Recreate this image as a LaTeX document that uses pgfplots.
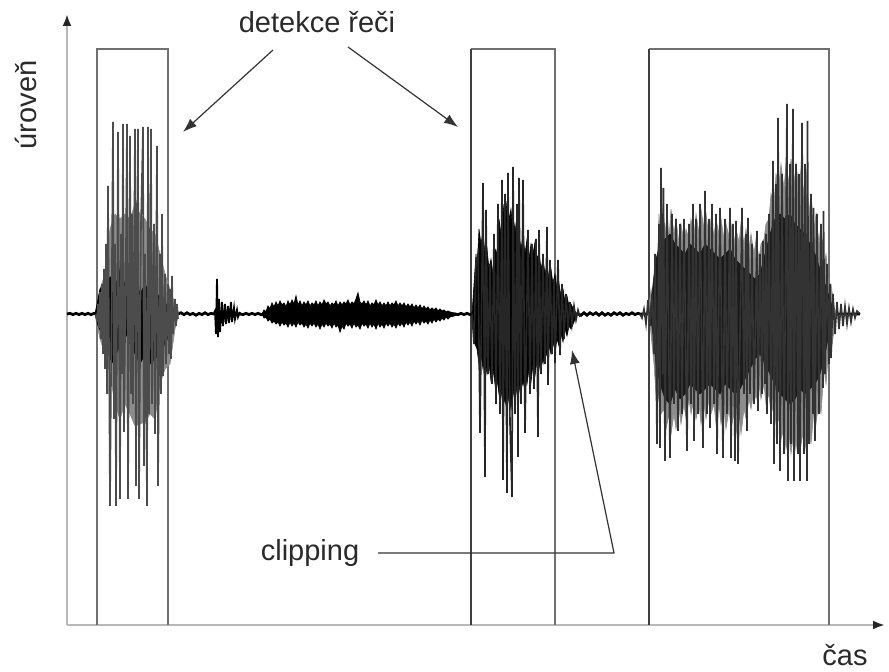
\documentclass[border=0pt]{standalone}
\usepackage{pgfplots}
\pgfplotsset{compat=1.18}
\usetikzlibrary{arrows.meta}
\usepackage{fontspec}
\setmainfont{Liberation Sans}
\definecolor{txt}{HTML}{2A2A2A}
\definecolor{boxc}{HTML}{707070}
\begin{document}
\begin{tikzpicture}
\begin{axis}[
  scale only axis, width=409pt, height=305.5pt,
  xmin=67, xmax=885, ymin=-311, ymax=300,
  axis lines=left, xtick=\empty, ytick=\empty,
  axis line style={black!28, line width=1.2pt, -{Latex[black!85, length=6pt, width=4.5pt]}},
  clip=false,
  every axis plot/.append style={mark=none},
]
% boxes
\draw[boxc, line width=0.8pt] (axis cs:97,-311) -- (axis cs:97,265) -- (axis cs:168,265) -- (axis cs:168,-311);
\draw[boxc, line width=0.8pt] (axis cs:555,-311) -- (axis cs:555,265) -- (axis cs:471,265);
\draw[black!75, line width=0.9pt] (axis cs:471,265) -- (axis cs:471,-311);
\draw[boxc, line width=0.8pt] (axis cs:829,-311) -- (axis cs:829,265) -- (axis cs:649,265);
\draw[black!75, line width=0.9pt] (axis cs:649,265) -- (axis cs:649,-311);

% baseline noise
\addplot[black, line width=1.4pt] coordinates {
(67,0)(70,0.6)(73,-0.6)(76,0.6)(79,-0.6)(82,0.6)(85,-0.6)(88,0.6)(91,-0.6)(94,0.6)(96,0)(178,0)(181,1.2)(184,-0.6)(187,1.2)(190,-0.6)(193,0.6)(196,-1.2)(199,0.6)(202,-0.6)(205,1.2)(208,-0.6)(211,0.6)(214,0)(240,0)(243,-0.6)(246,0.6)(249,-0.6)(252,0.6)(255,-0.6)(258,0.6)(261,-0.6)(264,0)(455,0)(458,-0.6)(461,0.6)(464,-0.6)(467,0.6)(470,-0.6)(472,0)(578,0)(581,-1.2)(584,1.2)(587,-1.2)(590,1.2)(593,-0.6)(596,1.2)(599,-1.2)(602,1.2)(605,-1.2)(608,0.6)(611,-1.2)(614,1.2)(617,-0.6)(620,1.2)(623,-1.2)(626,0.6)(629,-0.6)(632,1.2)(635,-0.6)(638,0.6)(640,0)(860,0)};

% --- segment 1 ---
\addplot[fill=black!45, draw=black!45, line width=0.3pt] coordinates {
(96,5)(100,25)(105,40)(110,85)(115,100)(120,95)(125,100)(130,95)(135,110)(140,100)(145,95)(150,85)(155,80)(160,60)(165,40)(170,25)(175,10)(178,3)
(178,-3)(175,-15)(170,-50)(165,-55)(160,-70)(155,-105)(150,-100)(145,-108)(140,-110)(135,-112)(130,-100)(125,-90)(120,-105)(115,-90)(110,-60)(105,-40)(100,-25)(96,-5)} -- cycle;
\addplot[fill=black, draw=black, line width=0.3pt] coordinates {
(95,0)(97,10)(100,25)(104,30)(108,35)(112,38)(116,30)(120,45)(124,30)(128,40)(132,25)(136,35)(140,20)(145,30)(150,20)(155,25)(160,15)(165,10)(170,8)(173,4)(175,0)
(170,-20)(165,-30)(160,-40)(155,-45)(150,-50)(145,-40)(140,-50)(135,-40)(130,-30)(126,-20)(122,-40)(118,-35)(114,-50)(110,-45)(106,-30)(102,-20)(98,-12)} -- cycle;
\addplot[black!70, line width=0.8pt] coordinates {
(96,0)(97,-8)(98,10)(99,-14)(100,22)(101,-25)(102,30)(103,-40)(104,45)(105,-55)(106,70)(107,-80)(108,128)(110,-192)(112,60)(113,192)(114,-105)(115,70)(116,-192)(118,182)(120,-185)(121,80)(122,-60)(123,190)(124,-118)(126,70)(127,190)(128,-185)(130,178)(131,-80)(132,100)(133,-90)(135,185)(136,-172)(137,80)(138,185)(139,-185)(141,90)(143,187)(144,-152)(145,60)(147,-192)(148,187)(149,-100)(151,185)(152,-90)(154,90)(155,-120)(157,168)(158,-172)(160,60)(161,-80)(162,100)(163,-62)(165,40)(166,-50)(168,30)(169,-40)(170,25)(171,-45)(172,38)(173,-20)(175,15)(176,-12)(177,10)(178,-5)};
% blip
\addplot[black, line width=0.9pt] coordinates {
(214,1)(215,3)(216,-20)(217,35)(218,-23)(219,15)(220,-18)(222,12)(223,-12)(225,10)(226,-10)(228,8)(229,-9)(231,12)(232,-8)(234,6)(235,-5)(237,4)(238,-3)(240,2)};

% noise band
\addplot[fill=black, draw=black, line width=0.4pt] coordinates {
(262,0)(264,4)(266,2)(268,8)(270,5)(272,11)(274,7)(276,12)(278,8)(280,13)(282,9)(284,11)(286,7)(288,13)(290,9)(292,14)(294,10)(296,18)(298,9)(300,13)(302,8)(304,12)(306,9)(308,13)(310,8)(312,11)(314,9)(316,13)(318,8)(320,12)(322,9)(324,14)(326,10)(328,12)(330,8)(332,11)(334,9)(336,13)(338,8)(340,12)(342,9)(344,12)(346,10)(348,14)(350,9)(352,12)(354,10)(356,15)(358,21)(360,12)(362,10)(364,13)(366,9)(368,13)(370,8)(372,11)(374,9)(376,14)(378,9)(380,12)(382,8)(384,11)(386,8)(388,12)(390,8)(392,11)(394,9)(396,13)(398,8)(400,11)(402,8)(404,11)(406,7)(408,10)(410,7)(412,10)(414,6)(416,9)(418,6)(420,9)(422,5)(424,8)(426,5)(428,7)(430,4)(432,6)(434,4)(436,6)(438,3)(440,5)(442,3)(444,4)(446,2)(448,3)(450,2)(454,1)(460,0)
(454,-2)(450,-3)(448,-5)(446,-3)(444,-6)(442,-4)(440,-7)(438,-5)(436,-8)(434,-5)(432,-9)(430,-6)(428,-10)(426,-7)(424,-9)(422,-6)(420,-11)(418,-7)(416,-10)(414,-7)(412,-12)(410,-8)(408,-11)(406,-8)(404,-13)(402,-9)(400,-12)(398,-9)(396,-14)(394,-10)(392,-13)(390,-9)(388,-12)(386,-9)(384,-14)(382,-10)(380,-13)(378,-9)(376,-15)(374,-10)(372,-13)(370,-9)(368,-14)(366,-10)(364,-12)(362,-9)(360,-15)(358,-11)(356,-13)(354,-9)(352,-14)(350,-10)(348,-12)(346,-9)(344,-15)(342,-12)(340,-18)(338,-11)(336,-13)(334,-9)(332,-14)(330,-10)(328,-12)(326,-9)(324,-13)(322,-10)(320,-15)(318,-10)(316,-13)(314,-9)(312,-12)(310,-9)(308,-14)(306,-10)(304,-13)(302,-9)(300,-11)(298,-8)(296,-13)(294,-9)(292,-12)(290,-8)(288,-13)(286,-9)(284,-11)(282,-8)(280,-12)(278,-8)(276,-10)(274,-7)(272,-9)(270,-5)(268,-7)(266,-3)(264,-4)} -- cycle;

% --- segment 2 ---
\addplot[fill=black, draw=black, line width=0.3pt] coordinates {
(472,0)(474,30)(476,60)(477,45)(479,85)(481,70)(483,82)(485,60)(487,65)(489,45)(491,55)(493,40)(495,65)(497,60)(499,95)(501,80)(503,110)(505,90)(507,113)(509,95)(511,105)(513,80)(515,90)(517,70)(519,80)(521,65)(523,78)(525,60)(527,75)(529,55)(531,70)(533,60)(535,72)(537,55)(539,62)(541,45)(543,55)(545,40)(547,50)(549,35)(551,45)(553,30)(555,40)(557,25)(559,30)(561,18)(563,25)(565,12)(567,18)(569,8)(571,10)(574,4)(577,0)
(574,-8)(571,-15)(569,-12)(567,-22)(565,-15)(563,-28)(561,-20)(559,-32)(557,-25)(555,-37)(553,-28)(551,-40)(549,-32)(547,-42)(545,-35)(543,-50)(541,-40)(539,-55)(537,-45)(535,-62)(533,-50)(531,-68)(529,-55)(527,-70)(525,-60)(523,-72)(521,-62)(519,-78)(517,-70)(515,-90)(513,-75)(511,-95)(509,-80)(507,-97)(505,-85)(503,-92)(501,-75)(499,-80)(497,-65)(495,-70)(493,-55)(491,-67)(489,-50)(487,-60)(485,-45)(483,-55)(481,-40)(479,-50)(477,-35)(475,-30)} -- cycle;
\addplot[black!85, line width=0.8pt] coordinates {
(472,0)(474,-30)(476,50)(478,60)(480,-119)(483,131)(485,-163)(486,104)(488,-60)(490,50)(492,-70)(494,80)(496,-90)(498,110)(500,-100)(502,134)(503,-166)(505,120)(507,-179)(508,141)(510,-110)(512,-183)(513,147)(515,-100)(517,110)(518,-143)(519,136)(521,-90)(523,134)(525,-119)(528,84)(530,-80)(532,70)(534,-75)(536,75)(538,-123)(539,84)(541,-60)(543,60)(545,-50)(547,87)(548,-71)(550,54)(552,-40)(554,35)(555,-49)(558,54)(560,-41)(562,30)(564,-25)(566,20)(568,-15)(570,12)(572,-10)(574,8)(576,-6)(578,4)(580,-3)};

% --- segment 3 ---
\addplot[fill=black!45, draw=black!45, line width=0.3pt] coordinates {
(648,0)(651,25)(653,15)(655,60)(657,40)(659,100)(661,70)(663,110)(665,80)(667,100)(669,75)(671,105)(674,80)(676,95)(679,70)(681,90)(684,72)(686,85)(689,75)(691,95)(694,78)(696,100)(699,80)(701,105)(704,85)(706,100)(709,75)(711,95)(714,78)(716,95)(719,80)(721,95)(724,75)(726,90)(729,78)(731,90)(734,70)(736,85)(739,72)(741,90)(744,70)(746,85)(749,65)(751,80)(754,60)(756,75)(759,55)(761,70)(764,75)(766,90)(769,95)(771,120)(774,110)(776,140)(779,130)(781,150)(784,125)(786,150)(789,130)(791,155)(794,130)(796,150)(799,125)(801,145)(804,120)(806,145)(809,100)(811,120)(814,85)(816,100)(819,70)(821,90)(824,50)(826,60)(829,25)(831,30)(834,8)(836,0)
(834,-15)(831,-40)(829,-30)(826,-70)(824,-55)(821,-100)(819,-85)(816,-110)(814,-95)(811,-130)(809,-110)(806,-135)(804,-115)(801,-130)(799,-110)(796,-135)(794,-115)(791,-140)(789,-120)(786,-135)(784,-115)(781,-125)(779,-105)(776,-110)(774,-90)(771,-100)(769,-80)(766,-90)(764,-70)(761,-85)(759,-70)(756,-85)(754,-75)(751,-95)(749,-85)(746,-105)(744,-95)(741,-120)(739,-100)(736,-120)(734,-100)(731,-115)(729,-95)(726,-115)(724,-95)(721,-110)(719,-90)(716,-110)(714,-90)(711,-100)(709,-85)(706,-105)(704,-90)(701,-110)(699,-90)(696,-105)(694,-85)(691,-100)(689,-85)(686,-105)(684,-90)(681,-110)(679,-95)(676,-115)(674,-100)(671,-120)(669,-100)(666,-115)(664,-95)(661,-100)(659,-85)(656,-80)(654,-50)(652,-30)(650,-10)} -- cycle;
\addplot[fill=black!90, draw=black!90, line width=0.3pt] coordinates {
(650,0)(653,30)(656,55)(660,70)(665,75)(670,80)(675,70)(680,65)(685,60)(690,70)(695,65)(700,60)(705,70)(710,65)(715,60)(720,55)(725,60)(730,65)(735,55)(740,50)(745,45)(750,40)(755,35)(760,40)(765,60)(770,80)(775,95)(780,100)(785,95)(790,100)(795,90)(800,85)(805,80)(810,70)(815,60)(820,45)(825,30)(830,15)(834,0)
(830,-15)(825,-40)(820,-60)(815,-70)(810,-75)(805,-80)(800,-75)(795,-85)(790,-90)(785,-85)(780,-80)(775,-70)(770,-60)(765,-50)(760,-40)(755,-45)(750,-55)(745,-65)(740,-75)(735,-80)(730,-75)(725,-70)(720,-80)(715,-75)(710,-70)(705,-75)(700,-80)(695,-75)(690,-70)(685,-80)(680,-85)(675,-75)(670,-90)(665,-85)(660,-70)(656,-50)(653,-20)} -- cycle;
\addplot[black!80, line width=0.8pt] coordinates {
(640,0)(642,-4)(644,5)(646,-10)(648,14)(650,-12)(652,20)(654,-40)(655,60)(657,-130)(659,90)(660,-134)(661,146)(663,-60)(663.5,126)(665,-147)(667,110)(670,-144)(672,100)(674,-90)(676,95)(678,-117)(680,90)(682,-100)(684,95)(687,-137)(689,90)(691,-90)(693,110)(694,-127)(696,95)(698,-100)(700,110)(703,-134)(705,123)(707,-100)(709,95)(710,-114)(712,110)(714,-90)(716,100)(717,-140)(720,106)(723,-144)(725,95)(727,-100)(730,106)(731,-144)(733,90)(735,-147)(736,93)(738,-150)(742,106)(744,-80)(746,80)(747,-117)(748,96)(750,-80)(752,70)(754,-90)(757,83)(758,-97)(760,60)(762,-80)(763,73)(765,-70)(766,80)(767,-100)(769,100)(771,-110)(773,153)(774,-150)(776,130)(777,-130)(778,196)(780,-157)(782,140)(784,-140)(787,210)(788,-167)(790,150)(791,-130)(793,205)(794,-167)(796,150)(798,-140)(799,140)(800,-167)(802,191)(804,-140)(805,150)(807,-167)(807.5,193)(809,-130)(811,120)(813,-100)(813.5,106)(815,-127)(817,100)(819,-100)(821,90)(823,-74)(823.5,103)(825,-60)(827,50)(829,-50)(830,30)(831,-44)(833,20)(835,-20)(837,12)(839,-15)(841,10)(843,-12)(845,8)(847,-10)(849,6)(851,-8)(853,5)(855,-4)(857,3)(860,0)};

% annotations
\draw[black!80, line width=0.6pt, -{Latex[length=7pt, width=5pt]}] (axis cs:273,264) -- (axis cs:183,182);
\draw[black!80, line width=0.6pt, -{Latex[length=7pt, width=5pt]}] (axis cs:348,267) -- (axis cs:458,187);
\draw[black!80, line width=0.6pt, -{Latex[length=7pt, width=5pt]}] (axis cs:378,-239) -- (axis cs:614,-239) -- (axis cs:572,-36);
\node[txt, font=\fontsize{14.5}{17}\selectfont] at (axis cs:317,292) {detekce řeči};
\node[txt, font=\fontsize{14.5}{17}\selectfont] at (axis cs:310,-239) {clipping};
\node[txt, font=\fontsize{14.5}{17}\selectfont] at (axis cs:845,-341) {čas};
\node[txt, font=\fontsize{14.5}{17}\selectfont, rotate=90] at (axis cs:26,209) {úroveň};
\end{axis}
\pgfresetboundingbox
\path (-33.5pt,-23.5pt) rectangle (411pt,312.5pt);
\end{tikzpicture}
\end{document}
